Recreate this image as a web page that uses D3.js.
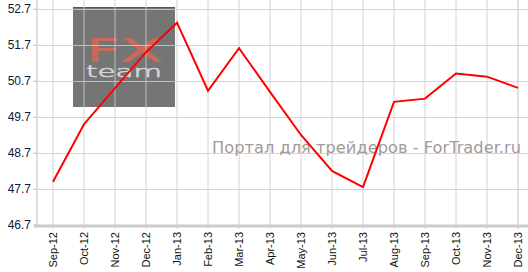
<!DOCTYPE html>
<html>
<head>
<meta charset="utf-8">
<script src="https://cdn.jsdelivr.net/npm/d3@7"></script>
<style>
  body { margin: 0; background: #fff; }
  svg { display: block; }
</style>
</head>
<body>
<div class="container"></div>
<script>
// data
const months = ["Sep-12","Oct-12","Nov-12","Dec-12","Jan-13","Feb-13","Mar-13","Apr-13",
    "May-13","Jun-13","Jul-13","Aug-13","Sep-13","Oct-13","Nov-13","Dec-13"];
const values = [47.9, 49.5, 50.5, 51.5, 52.32, 50.43, 51.61, 50.4,
    49.2, 48.2, 47.75, 50.12, 50.21, 50.91, 50.82, 50.51];
const yTicks = [46.7, 47.7, 48.7, 49.7, 50.7, 51.7, 52.7];

const W = 528, H = 272;

const svg = d3.select("div.container").append("svg")
    .attr("width", W)
    .attr("height", H);

const x = d3.scalePoint().domain(months).range([53, 518]);
const y = d3.scaleLinear().domain([46.7, 52.7]).range([225, 9]);

// watermark box (under the grid)
const wm = svg.append("g");
wm.append("rect")
    .attr("x", 73).attr("y", 7).attr("width", 102).attr("height", 100)
    .attr("fill", "#757575");
wm.append("line")
    .attr("x1", 73).attr("x2", 175).attr("y1", 7.5).attr("y2", 7.5)
    .attr("stroke", "#555");

// grid
svg.append("g").selectAll("line")
    .data(months)
    .enter()
    .append("line")
    .attr("x1", d => x(d)).attr("x2", d => x(d))
    .attr("y1", 0).attr("y2", 229)
    .attr("stroke", (d,i) => i == months.length-1 ? "#dcdcdc" : "#cccccc")
    .attr("stroke-opacity", 0.85)
    .attr("stroke-width", (d,i) => i == months.length-1 ? 2 : 1);

svg.append("g").selectAll("line")
    .data(yTicks.slice(1))
    .enter()
    .append("line")
    .attr("x1", 34).attr("x2", W)
    .attr("y1", d => Math.round(y(d)) + 0.5).attr("y2", d => Math.round(y(d)) + 0.5)
    .attr("stroke", "#cccccc")
    .attr("stroke-opacity", 0.85);

// axes lines
svg.append("line")
    .attr("x1", 37).attr("x2", 37).attr("y1", 0).attr("y2", 227)
    .attr("stroke", "#dddddd").attr("stroke-width", 2);
svg.append("line")
    .attr("x1", 34).attr("x2", W).attr("y1", 226).attr("y2", 226)
    .attr("stroke", "#cccccc").attr("stroke-width", 3);

// watermark logo text
wm.append("text")
    .attr("x", 86).attr("y", 61)
    .attr("font-family", "DejaVu Sans")
    .attr("font-weight", 200)
    .attr("font-size", 31)
    .attr("fill", "#c8695a")
    .attr("stroke", "#c8695a")
    .attr("stroke-width", 1.8)
    .attr("textLength", 76)
    .attr("lengthAdjust", "spacingAndGlyphs")
    .text("FX");
wm.append("text")
    .attr("x", 86).attr("y", 77)
    .attr("font-family", "DejaVu Sans")
    .attr("font-weight", 200)
    .attr("font-size", 15)
    .attr("fill", "#d4d4d4")
    .attr("stroke", "#d4d4d4")
    .attr("stroke-width", 0.6)
    .attr("textLength", 76)
    .attr("lengthAdjust", "spacingAndGlyphs")
    .text("team");

// site text
svg.append("text")
    .attr("x", 212).attr("y", 153)
    .attr("font-family", "DejaVu Sans")
    .attr("font-size", 15)
    .attr("fill", "#a39a9a")
    .attr("textLength", 309)
    .attr("lengthAdjust", "spacingAndGlyphs")
    .text("Портал для трейдеров - ForTrader.ru");

// y tick labels
svg.append("g").selectAll("text")
    .data(yTicks)
    .enter()
    .append("text")
    .attr("x", 31)
    .attr("y", d => y(d) + 4)
    .attr("text-anchor", "end")
    .attr("font-family", "Liberation Sans, Arial")
    .attr("font-size", 12)
    .attr("fill", "#0a1a3a")
    .text(d => d.toFixed(1));

// y tick marks
svg.append("g").selectAll("line")
    .data(yTicks)
    .enter()
    .append("line")
    .attr("x1", 33).attr("x2", 37)
    .attr("y1", d => y(d)).attr("y2", d => y(d))
    .attr("stroke", "#cccccc");

// x tick labels
svg.append("g").selectAll("text")
    .data(months)
    .enter()
    .append("text")
    .attr("transform", d => `translate(${x(d) + 4},232) rotate(-90)`)
    .attr("text-anchor", "end")
    .attr("font-family", "Liberation Sans, Arial")
    .attr("font-size", 11)
    .attr("fill", "#111")
    .text(d => d);

// the line
const line = d3.line()
    .x((d,i) => x(months[i]))
    .y(d => y(d));

svg.append("path")
    .datum(values)
    .attr("d", line)
    .attr("fill", "none")
    .attr("stroke", "#ff0000")
    .attr("stroke-width", 2);
</script>
</body>
</html>
